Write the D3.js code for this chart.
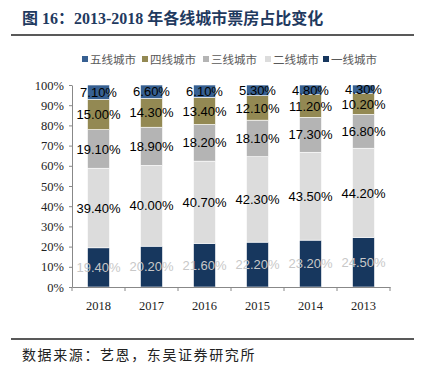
<!DOCTYPE html>
<html><head><meta charset="utf-8">
<script src="https://cdn.jsdelivr.net/npm/d3@7"></script>
<style>body{margin:0;background:#fff}svg{display:block}</style>
</head><body>
<script>
const years = ["2018","2017","2016","2015","2014","2013"];
const tier1 = [19.4, 20.2, 21.6, 22.2, 23.2, 24.5];
const tier2 = [39.4, 40.0, 40.7, 42.3, 43.5, 44.2];
const tier3 = [19.1, 18.9, 18.2, 18.1, 17.3, 16.8];
const tier4 = [15.0, 14.3, 13.4, 12.1, 11.2, 10.2];
const tier5 = [7.1, 6.6, 6.1, 5.3, 4.8, 4.3];
const seriesNames = ["一线城市","二线城市","三线城市","四线城市","五线城市"];
const seriesColors = ["#17375e","#dcdcdc","#b4b4b4","#938953","#376092"];
const labelColors = ["#c8c8c8","#000","#000","#000","#000"];
const yTicks = [0,10,20,30,40,50,60,70,80,90,100];

const W=426,H=365;
const svg=d3.select("body").append("svg").attr("width",W).attr("height",H);

// title
svg.append("text").attr("x",22).attr("y",24)
  .attr("font-family","'Liberation Serif','Noto Sans CJK SC',serif")
  .attr("font-weight","bold").attr("font-size",16).attr("fill","#1f3a5f")
  .text("图 16：2013-2018 年各线城市票房占比变化");
svg.append("line").attr("x1",11).attr("x2",414).attr("y1",35).attr("y2",35)
  .attr("stroke","#222").attr("stroke-width",1.5);
svg.append("line").attr("x1",11).attr("x2",414).attr("y1",339).attr("y2",339)
  .attr("stroke","#222").attr("stroke-width",1.5);
svg.append("text").attr("x",22).attr("y",360)
  .attr("font-family","'Noto Sans CJK SC',sans-serif").attr("font-size",14)
  .attr("letter-spacing",1.6).attr("fill","#222")
  .text("数据来源：艺恩，东吴证券研究所");

const x=d3.scaleBand().domain(years).range([72,390]).paddingInner(0.585).paddingOuter(0.2925);
const y=d3.scaleLinear().domain([0,100]).range([287,85]);

const data=years.map((yr,i)=>({year:yr,s0:tier1[i],s1:tier2[i],s2:tier3[i],s3:tier4[i],s4:tier5[i]}));
const stack=d3.stack().keys(["s0","s1","s2","s3","s4"])(data);

const g=svg.append("g");
stack.forEach((layer,li)=>{
  g.selectAll(null).data(layer).enter().append("rect")
    .attr("x",d=>x(d.data.year)).attr("width",x.bandwidth())
    .attr("y",d=>y(d[1])).attr("height",d=>y(d[0])-y(d[1]))
    .attr("fill",seriesColors[li]).attr("stroke","#fff").attr("stroke-width",0.6);
});
stack.forEach((layer,li)=>{
  g.selectAll(null).data(layer).enter().append("text")
    .attr("x",d=>x(d.data.year)+x.bandwidth()/2)
    .attr("y",d=>(y(d[0])+y(d[1]))/2)
    .attr("dy","0.36em").attr("text-anchor","middle")
    .attr("font-family","'Liberation Sans',Arial,sans-serif").attr("font-size",13)
    .attr("fill",labelColors[li])
    .text(d=>(d[1]-d[0]).toFixed(2)+"%");
});

// axes
const yAxis=svg.append("g").attr("transform","translate(72,0)")
  .call(d3.axisLeft(y).tickValues(yTicks).tickFormat(d=>d+"%").tickSize(3).tickSizeOuter(0));
yAxis.select(".domain").attr("stroke","#888");
yAxis.selectAll(".tick line").attr("stroke","#888");
yAxis.selectAll("text").attr("font-family","'Liberation Serif',serif").attr("font-size",12.5).attr("fill","#222").attr("x",-8);

const xAxis=svg.append("g").attr("transform","translate(0,287)")
  .call(d3.axisBottom(x).tickSize(0).tickSizeOuter(0));
xAxis.select(".domain").attr("stroke","#888");
xAxis.selectAll("text").attr("font-family","'Liberation Serif',serif").attr("font-size",12.5).attr("fill","#222").attr("dy","1.6em");
// boundary ticks
const step=x.step();
const bounds=d3.range(years.length+1).map(i=>72+i*step);
svg.append("g").selectAll("line").data(bounds).enter().append("line")
  .attr("x1",d=>d).attr("x2",d=>d).attr("y1",287).attr("y2",291).attr("stroke","#888");

// legend
const legOrder=[4,3,2,1,0];
const legX=[82,142,203,265,323];
const leg=svg.append("g");
legOrder.forEach((si,k)=>{
  leg.append("rect").attr("x",legX[k]).attr("y",56).attr("width",6).attr("height",6).attr("fill",seriesColors[si]);
  leg.append("text").attr("x",legX[k]+8).attr("y",63.5)
    .attr("font-family","'Noto Sans CJK SC',sans-serif").attr("font-size",11.5).attr("fill","#595959")
    .text(seriesNames[si]);
});
</script>
</body></html>
